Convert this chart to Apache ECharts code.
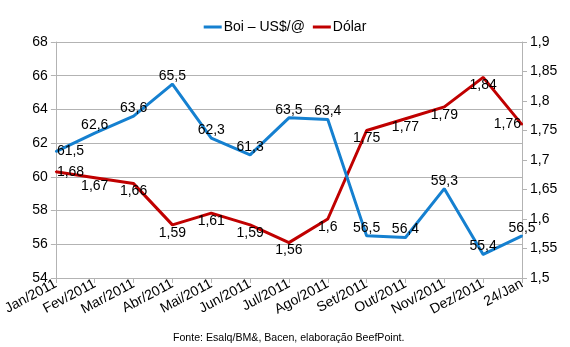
<!DOCTYPE html>
<html>
<head>
<meta charset="utf-8">
<script src="https://cdn.jsdelivr.net/npm/echarts@6/dist/echarts.min.js"></script>
<style>
  html, body { margin: 0; padding: 0; background: #ffffff; }
  #chart { width: 570px; height: 347px; }
</style>
</head>
<body>
<div id="chart"></div>
<script>
// Monthly categories, Jan/2011 through 24 Jan
const categories = ['Jan/2011', 'Fev/2011', 'Mar/2011', 'Abr/2011', 'Mai/2011', 'Jun/2011',
  'Jul/2011', 'Ago/2011', 'Set/2011', 'Out/2011', 'Nov/2011', 'Dez/2011', '24/Jan'];

// Cattle price in US$ per arroba (left axis)
const boiUsd = [61.5, 62.6, 63.6, 65.5, 62.3, 61.3, 63.5, 63.4, 56.5, 56.4, 59.3, 55.4, 56.5];

// Dollar exchange rate (right axis)
const dolar = [1.68, 1.67, 1.66, 1.59, 1.61, 1.59, 1.56, 1.6, 1.75, 1.77, 1.79, 1.84, 1.76];

const seriesNames = ['Boi – US$/@', 'Dólar'];
const sourceNote = 'Fonte: Esalq/BM&, Bacen, elaboração BeefPoint.';

const fmt = v => String(v).replace('.', ',');
const FONT = '"Liberation Sans", Arial, sans-serif';

// Label placement per point: above (price) / below (dollar), edge points pushed inward
function withLabels(values, defaultPos, overrides) {
  return values.map((v, i) => ({
    value: v,
    label: { position: overrides[i] || defaultPos }
  }));
}

const chart = echarts.init(document.getElementById('chart'), null, { renderer: 'canvas' });

const labelStyle = {
  show: true,
  formatter: p => fmt(p.value),
  color: '#000',
  fontFamily: FONT,
  fontSize: 14,
  distance: 0
};

chart.setOption({
  animation: false,
  backgroundColor: '#ffffff',
  textStyle: { fontFamily: FONT },
  legend: {
    top: 15,
    left: 'center',
    data: seriesNames,
    icon: 'rect',
    itemWidth: 18,
    itemHeight: 3,
    itemGap: 8,
    textStyle: { fontFamily: FONT, fontSize: 14, color: '#000', padding: [0, 0, 0, -3] }
  },
  graphic: [{
    type: 'text',
    left: 173,
    top: 333,
    style: { text: sourceNote, fontFamily: FONT, fontSize: 10.6, fill: '#000' }
  }],
  grid: { left: 53, right: 48, top: 42, bottom: 69 },
  xAxis: {
    type: 'category',
    data: categories,
    boundaryGap: false,
    axisLine: { lineStyle: { color: '#b3b3b3', width: 1 } },
    axisTick: { show: true, length: 5, lineStyle: { color: '#b3b3b3' } },
    axisLabel: { rotate: 28, color: '#000', fontFamily: FONT, fontSize: 14, margin: 5, interval: 0 },
    splitLine: { show: false }
  },
  yAxis: [{
    type: 'value',
    min: 54, max: 68, interval: 2,
    axisLine: { show: true, lineStyle: { color: '#b3b3b3' } },
    axisTick: { show: true, length: 5, lineStyle: { color: '#b3b3b3' } },
    axisLabel: { color: '#000', fontFamily: FONT, fontSize: 14, margin: 8 },
    splitLine: { show: true, lineStyle: { color: '#b3b3b3', width: 1 } }
  }, {
    type: 'value',
    position: 'right',
    min: 1.5, max: 1.9, interval: 0.05,
    axisLine: { show: true, lineStyle: { color: '#b3b3b3' } },
    axisTick: { show: true, length: 5, lineStyle: { color: '#b3b3b3' } },
    axisLabel: { color: '#000', fontFamily: FONT, fontSize: 14, margin: 8,
      formatter: v => fmt(Math.round(v * 100) / 100) },
    splitLine: { show: false }
  }],
  series: [{
    name: seriesNames[0],
    type: 'line',
    yAxisIndex: 0,
    data: withLabels(boiUsd, 'top', { 0: 'right' }),
    symbol: 'circle',
    symbolSize: 2,
    showSymbol: true,
    lineStyle: { color: '#1580d0', width: 3 },
    itemStyle: { color: '#1580d0' },
    label: labelStyle,
    labelLayout: { hideOverlap: false },
    z: 3
  }, {
    name: seriesNames[1],
    type: 'line',
    yAxisIndex: 1,
    data: withLabels(dolar, 'bottom', { 0: 'right', 12: 'left' }),
    symbol: 'circle',
    symbolSize: 2,
    showSymbol: true,
    lineStyle: { color: '#c00000', width: 3 },
    itemStyle: { color: '#c00000' },
    label: labelStyle,
    labelLayout: { hideOverlap: false },
    z: 2
  }]
});
</script>
</body>
</html>
